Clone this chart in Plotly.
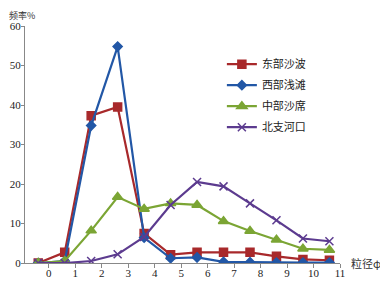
import plotly.graph_objects as go

x_pos = [-0.4, 0.6, 1.6, 2.6, 3.6, 4.6, 5.6, 6.6, 7.6, 8.6, 9.6, 10.6]
tick_vals = list(range(0, 12))
tick_text = [str(v) for v in tick_vals]

east = [0, 2.7, 37.3, 39.5, 7.5, 2.1, 2.7, 2.7, 2.7, 1.7, 0.9, 0.7]
west = [0, 0.5, 34.8, 54.8, 6.4, 1.2, 1.4, 0.3, 0.2, 0.1, 0.1, 0.1]
central = [0, 0.5, 8.2, 16.7, 13.7, 15.1, 14.7, 10.6, 8.1, 5.9, 3.6, 3.3]
north = [0, 0, 0.5, 2.2, 6.6, 14.7, 20.5, 19.4, 15.1, 10.8, 6.2, 5.5]

names = ["东部沙波", "西部浅滩", "中部沙席", "北支河口"]
colors = ["#A8292B", "#2257A6", "#7BA534", "#5C3B8F"]
symbols = ["square", "diamond", "triangle-up", "x-thin-open"]
sizes = [8, 7, 9, 8]
series = [east, west, central, north]

fig = go.Figure()
for name, ys, c, s, sz in zip(names, series, colors, symbols, sizes):
    fig.add_trace(go.Scatter(
        x=x_pos, y=ys, name=name, mode="lines+markers", legendgroup=name,
        line=dict(color=c, width=2.2),
        marker=dict(symbol=s, size=sz, color=c, line=dict(color=c, width=1.5)),
    ))

fig.update_layout(
    width=380, height=273,
    margin=dict(l=17, r=48, t=18, b=18, autoexpand=False),
    paper_bgcolor="white", plot_bgcolor="white",
    font=dict(family="Liberation Serif, Noto Sans CJK SC", size=11, color="#222"),
    showlegend=True,
    legend=dict(x=0.625, y=0.9, xanchor="left", yanchor="top",
                font=dict(family="Noto Sans CJK SC", size=11, color="#222"),
                bgcolor="rgba(0,0,0,0)", tracegroupgap=2, itemwidth=30,
                traceorder="grouped"),
    xaxis=dict(range=[-0.9, 11], tickmode="array", tickvals=tick_vals, ticktext=tick_text,
               automargin=False, ticklabelstandoff=-4,
               showgrid=False, zeroline=False, showline=True, linecolor="#888", linewidth=1,
               ticks="outside", ticklen=4, tickcolor="#888",
               tickfont=dict(family="Liberation Serif", size=11)),
    yaxis=dict(range=[0, 60], tickvals=[0, 10, 20, 30, 40, 50, 60], automargin=False,
               ticklabelstandoff=-2,
               showgrid=False, zeroline=False, showline=True, linecolor="#888", linewidth=1,
               ticks="outside", ticklen=3, tickcolor="#888",
               tickfont=dict(family="Liberation Serif", size=11)),
)
fig.add_annotation(text="频率%", xref="paper", yref="paper", x=-0.054, y=1.0, yshift=18,
                   xanchor="left", yanchor="top", showarrow=False, borderpad=0,
                   font=dict(family="Noto Sans CJK SC", size=9, color="#333"))
fig.add_annotation(text="粒径φ", xref="paper", yref="paper", x=1.03, y=0.0,
                   xanchor="left", yanchor="middle", showarrow=False,
                   font=dict(family="Noto Sans CJK SC", size=11, color="#333"))

fig.write_html("out.html")
